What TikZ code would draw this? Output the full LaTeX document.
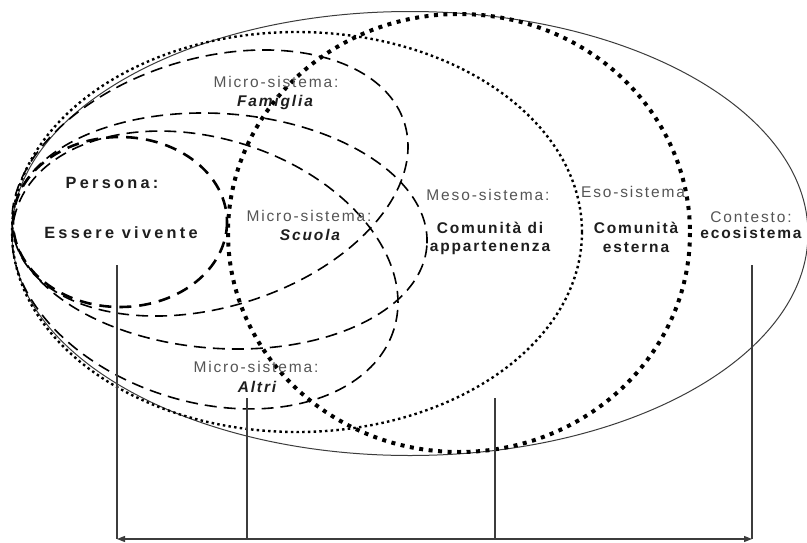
\documentclass[tikz,border=0pt]{standalone}
\usepackage{fontspec}
\setmainfont{Liberation Sans}
\newfontfamily\labfont[LetterSpace=12]{Liberation Sans}
\newfontfamily\perfont[LetterSpace=20]{Liberation Sans}
\usetikzlibrary{arrows.meta}
\definecolor{lgray}{RGB}{85,85,85}
\definecolor{dgray}{RGB}{30,30,30}
\definecolor{lineg}{RGB}{60,60,60}
\begin{document}
\begin{tikzpicture}[x=1pt,y=-1pt,
  solidline/.style={draw=lineg, line width=1pt},
  mesoline/.style={draw=black, line width=2.4pt, dash pattern=on 2.5pt off 3.2pt},
  esoline/.style={draw=black, line width=4pt, dash pattern=on 4pt off 5.5pt},
  microline/.style={draw=black, line width=1.6pt, dash pattern=on 12pt off 7pt},
  persline/.style={draw=black, line width=2.6pt, dash pattern=on 12pt off 8pt},
  guide/.style={draw=lineg, line width=1.2pt},
  reg/.style={font=\labfont\fontsize{15.5}{18}\selectfont, text=lgray, inner sep=0pt},
  bld/.style={font=\labfont\fontsize{15.5}{18}\selectfont\bfseries, text=dgray, inner sep=0pt},
  bit/.style={font=\labfont\fontsize{15.5}{18}\selectfont\bfseries\itshape, text=dgray, inner sep=0pt},
  pers/.style={font=\perfont\fontsize{16.3}{19}\selectfont\bfseries, text=dgray, inner sep=0pt}
]
\clip (0,0) rectangle (807,542);
\fill[white] (0,0) rectangle (807,542);

% contesto (solid)
\draw[solidline] (410,233.5) ellipse [x radius=398, y radius=222];
% meso (fine dots)
\draw[mesoline] (297,232) ellipse [x radius=285, y radius=200];
% eso (thick dots)
\draw[esoline] (459,233) ellipse [x radius=231, y radius=219];
% micro: famiglia
\draw[microline, rotate around={17:(210,183)}] (210,183) ellipse [x radius=203.5, y radius=124.4];
% micro: scuola
\draw[microline, rotate around={-4:(220,231)}] (220,231) ellipse [x radius=207.4, y radius=117.4];
% micro: altri
\draw[microline, rotate around={-17.5:(205,270)}] (205,270) ellipse [x radius=198, y radius=131.6];
% persona
\draw[persline] (120,222) ellipse [x radius=107, y radius=85];

% labels
\node[pers] (pers1) at (112,183) {Persona:};
\node[pers] (pers2) at (121,233) {Essere vivente};
\node[reg] (fam1) at (276,82) {Micro-sistema:};
\node[bit] (fam2) at (275,102) {Famiglia};
\node[reg] (scu1) at (309,216) {Micro-sistema:};
\node[bit] (scu2) at (310,235) {Scuola};
\node[reg] (alt1) at (256,367) {Micro-sistema:};
\node[bit] (alt2) at (257,387) {Altri};
\node[reg] (meso1) at (488,195) {Meso-sistema:};
\node[bld] (meso2) at (490,228) {Comunità di};
\node[bld] (meso3) at (490,248) {appartenenza};
\node[reg] (eso1) at (633,192) {Eso-sistema};
\node[bld] (eso2) at (636,228) {Comunità};
\node[bld] (eso3) at (636,248) {esterna};
\node[reg] (con1) at (751,217) {Contesto:};
\node[bld] (con2) at (751,233) {ecosistema};

% guide lines
\coordinate (a1) at (117,265);
\coordinate (b1) at (117,539);
\coordinate (a2) at (247,398);
\coordinate (b2) at (247,539);
\coordinate (a3) at (495,398);
\coordinate (b3) at (495,539);
\coordinate (a4) at (752,265);
\coordinate (b4) at (752,539);
\draw[guide] (a1) -- (b1);
\draw[guide] (a2) -- (b2);
\draw[guide] (a3) -- (b3);
\draw[guide] (a4) -- (b4);
\draw[guide, {Triangle[length=8pt,width=6pt]}-{Triangle[length=8pt,width=6pt]}] (b1) -- (b4);
\end{tikzpicture}
\end{document}
